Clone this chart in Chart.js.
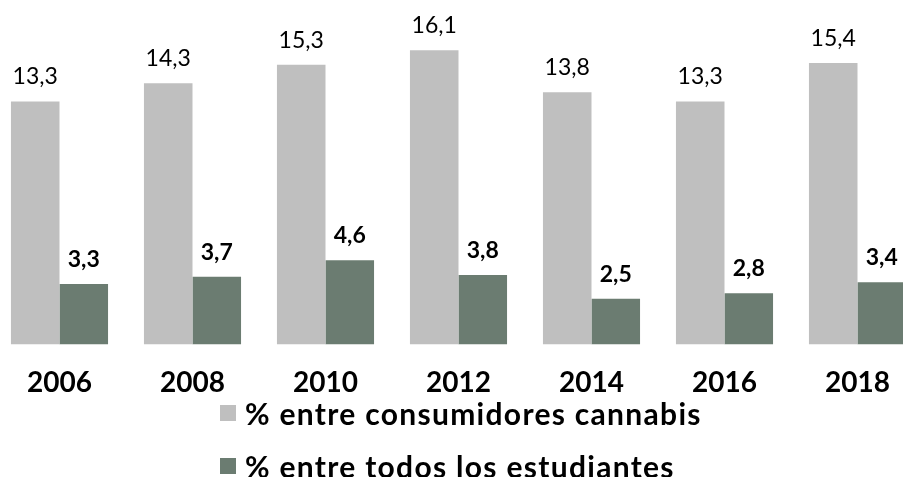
<!DOCTYPE html>
<html>
<head>
<meta charset="utf-8">
<script src="https://cdn.jsdelivr.net/npm/chart.js@4.4.1/dist/chart.umd.min.js"></script>
<style>
  html, body { margin: 0; padding: 0; background: #fff; overflow: hidden; width: 903px; height: 477px; }
  #wrap { position: absolute; left: -7px; top: 0; width: 931px; height: 422px; }
  #legend { position: absolute; left: 220px; top: 387px; font-family: Lato, sans-serif; font-weight: bold; font-size: 30px; color: #000; letter-spacing: 1.3px; }
  .item { display: flex; align-items: center; height: 52.5px; white-space: nowrap; }
  .box { width: 16px; height: 16px; margin-right: 9px; flex: none; }
</style>
</head>
<body>
<div id="wrap"><canvas id="myChart"></canvas></div>
<div id="legend"></div>
<script>
const years = ['2006', '2008', '2010', '2012', '2014', '2016', '2018'];
const seriesNames = ['% entre consumidores cannabis', '% entre todos los estudiantes'];
const consumidores = [13.3, 14.3, 15.3, 16.1, 13.8, 13.3, 15.4];
const estudiantes = [3.3, 3.7, 4.6, 3.8, 2.5, 2.8, 3.4];
const colors = ['#bfbfbf', '#6b7c71'];

// value labels above every bar, comma as decimal separator
const valueLabels = {
  id: 'valueLabels',
  afterDatasetsDraw(chart) {
    const ctx = chart.ctx;
    ctx.save();
    ctx.textAlign = 'center';
    ctx.textBaseline = 'alphabetic';
    ctx.fillStyle = '#000';
    chart.data.datasets.forEach((ds, i) => {
      ctx.font = (i === 1 ? 'bold ' : '') + '23px Lato';
      chart.getDatasetMeta(i).data.forEach((bar, j) => {
        ctx.fillText(ds.data[j].toFixed(1).replace('.', ','), bar.x, bar.y - 17);
      });
    });
    ctx.restore();
  }
};

const chart = new Chart(document.getElementById('myChart').getContext('2d'), {
  type: 'bar',
  data: {
    labels: years,
    datasets: [
      { label: seriesNames[0], data: consumidores, backgroundColor: colors[0] },
      { label: seriesNames[1], data: estudiantes, backgroundColor: colors[1] }
    ]
  },
  options: {
    responsive: true,
    maintainAspectRatio: false,
    animation: false,
    layout: { padding: 0 },
    datasets: { bar: { categoryPercentage: 0.73, barPercentage: 1.0 } },
    plugins: { legend: { display: false }, tooltip: { enabled: false } },
    scales: {
      x: {
        grid: { display: false, drawTicks: false },
        border: { display: false },
        ticks: { padding: 22, color: '#000', font: { family: 'Lato', weight: 'bold', size: 28 } }
      },
      y: { display: false, min: 0, max: 18.85 }
    }
  },
  plugins: [valueLabels]
});

// legend, one item per row
const legend = document.getElementById('legend');
chart.data.datasets.forEach(ds => {
  const row = document.createElement('div');
  row.className = 'item';
  const box = document.createElement('span');
  box.className = 'box';
  box.style.background = ds.backgroundColor;
  const txt = document.createElement('span');
  txt.textContent = ds.label;
  row.appendChild(box);
  row.appendChild(txt);
  legend.appendChild(row);
});
</script>
</body>
</html>
